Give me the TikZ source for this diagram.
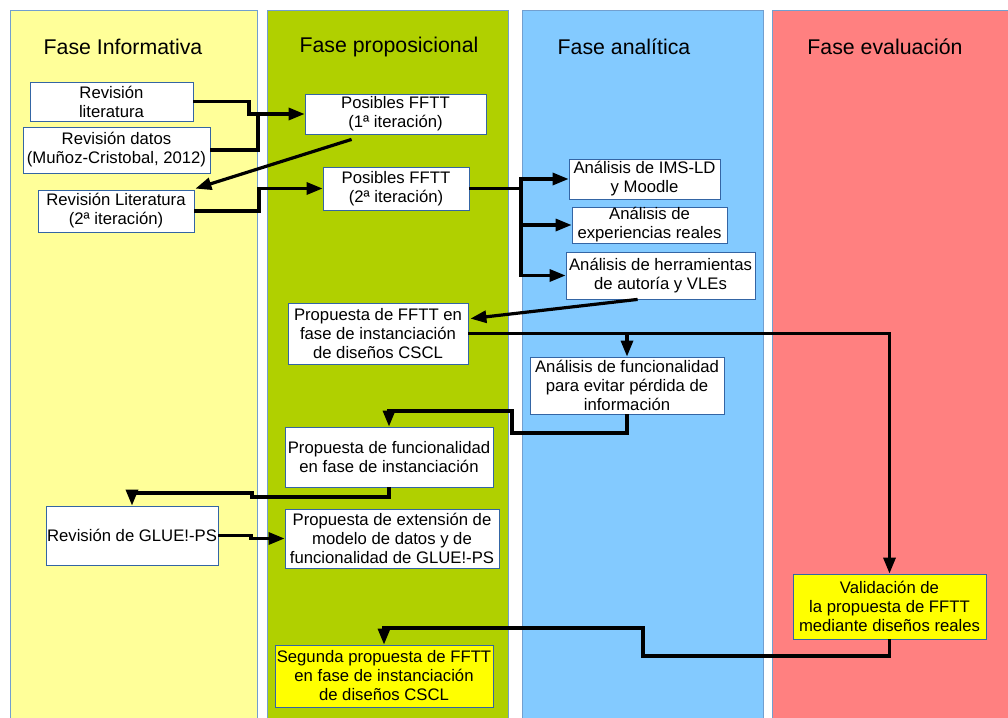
\documentclass[tikz,border=0pt]{standalone}
\usepackage{fontspec}
\setmainfont{Liberation Sans}
\usetikzlibrary{arrows.meta,calc}

\definecolor{colborder}{HTML}{729FCF}
\definecolor{boxborder}{HTML}{3465A4}
\definecolor{phaseA}{HTML}{FFFF99}
\definecolor{phaseB}{HTML}{B0D000}
\definecolor{phaseC}{HTML}{83CAFF}
\definecolor{phaseD}{HTML}{FF8080}
\definecolor{hlyellow}{HTML}{FFFF00}

\begin{document}
\begin{tikzpicture}[x=1pt,y=-1pt,
  phase/.style={draw=colborder, line width=0.8pt},
  title/.style={font=\fontsize{21.3}{25}\selectfont},
  box/.style={draw=boxborder, line width=0.8pt, fill=white, align=center,
    inner sep=0pt, font=\fontsize{16.7}{19}\selectfont},
  hl/.style={box, fill=hlyellow},
  sz/.style 2 args={minimum width=#1pt, minimum height=#2pt},
  link/.style={line width=3.2pt},
  arr/.style={link, -{Triangle[length=16pt,width=12pt]}}]

\useasboundingbox (0,0) rectangle (1008,717);
\fill[white] (0,0) rectangle (1008,717);

% phase columns
\draw[phase, fill=phaseA] (10,10) rectangle (257,725);
\draw[phase, fill=phaseB] (267,10) rectangle (508,725);
\draw[phase, fill=phaseC] (522,10) rectangle (763,725);
\draw[phase, fill=phaseD] (772,10) rectangle (1015,725);

\node[title] (tA) at (123,47) {Fase Informativa};
\node[title] (tB) at (389,47) {Fase proposicional};
\node[title] (tC) at (624,47) {Fase analítica};
\node[title] (tD) at (885,47) {Fase evaluación};

% steps
\node[box, sz={163}{39}] (lit)   at (111.5,101.5) {Revisión\\literatura};
\node[box, sz={187}{46}] (datos) at (116.5,150)   {Revisión datos\\(Muñoz-Cristobal, 2012)};
\node[box, sz={156}{42}] (lit2)  at (116,211)     {Revisión Literatura\\(2ª iteración)};
\node[box, sz={181}{40}] (pos1)  at (395.5,114)   {Posibles FFTT\\(1ª iteración)};
\node[box, sz={146}{43}] (pos2)  at (396,188.5)   {Posibles FFTT\\(2ª iteración)};
\node[box, sz={151}{40}] (ims)   at (644.5,179)   {Análisis de IMS-LD\\y Moodle};
\node[box, sz={155}{36}] (exp)   at (649.5,225)   {Análisis de\\experiencias reales};
\node[box, sz={189}{47}] (herr)  at (660.5,275.5) {Análisis de herramientas\\de autoría y VLEs};
\node[box, sz={180}{61}] (prop)  at (378,333.5)   {Propuesta de FFTT en\\fase de instanciación\\de diseños CSCL};
\node[box, sz={194}{57}] (func)  at (627,385.5)   {Análisis de funcionalidad\\para evitar pérdida de\\información};
\node[box, sz={208}{60}] (propf) at (389,457)     {Propuesta de funcionalidad\\en fase de instanciación};
\node[box, sz={172}{59}] (glue)  at (132,535.5)   {Revisión de GLUE!-PS};
\node[box, sz={214}{59}] (ext)   at (392,538.5)   {Propuesta de extensión de\\modelo de datos y de\\funcionalidad de GLUE!-PS};
\node[hl,  sz={218}{62}] (seg)   at (384,676)     {Segunda propuesta de FFTT\\en fase de instanciación\\de diseños CSCL};
\node[hl,  sz={193}{65}] (val)   at (889.5,606.5) {Validación de\\la propuesta de FFTT\\mediante diseños reales};

% connectors
\draw[arr] (lit.east) -- (249,101.5) |- (pos1.west);
\draw[link] (datos.east) -| (258,112.5);
\draw[arr] ($(pos1.south west)+(47,5)$) -- ($(lit2.north east)+(1,-1)$);
\draw[arr] (lit2.east) -- (259,211) |- (pos2.west);

\coordinate (trunk) at (521,188.5);
\draw[link] (pos2.east) -- (trunk);
\draw[arr] (trunk) |- (ims.west);
\draw[arr] (trunk) |- (exp.west);
\draw[arr] (trunk) |- (herr.west);

\draw[arr] ($(herr.south west)+(72,0)$) -- ($(prop.north east)+(2,16)$);
\draw[arr] (prop.east) -| (val.north);
\draw[arr] (func.north |- prop.east) -- (func.north);

\draw[arr] (func.south) -- (627,433) -- (512,433) -- (512,411) -| (propf.north);
\draw[arr] (propf.south) -- (389,497) -- (252,497) -- (252,493) -| (glue.north);
\draw[arr] (glue.east) -- (251,535.5) |- (ext.west);
\draw[arr] (val.south) -- (889.5,656) -- (643,656) -- (643,628) -| (seg.north);

\end{tikzpicture}
\end{document}
